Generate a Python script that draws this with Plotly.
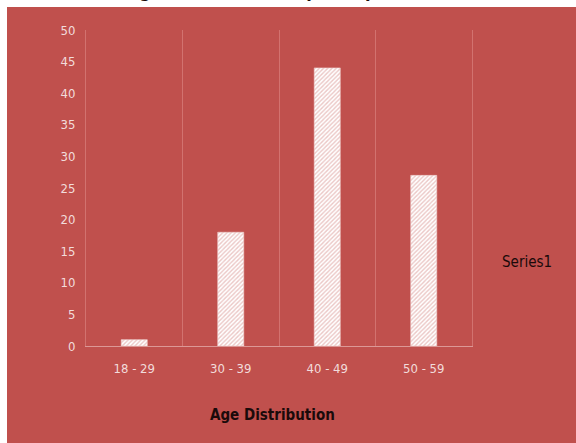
import plotly.graph_objects as go

categories = ["18 - 29", "30 - 39", "40 - 49", "50 - 59"]
values = [1, 18, 44, 27]
y_ticks = [0, 5, 10, 15, 20, 25, 30, 35, 40, 45, 50]
series_name = "Series1"
x_title = "Age Distribution"
chart_title = "Age Distribution of participants"

W, H = 576, 443
L, R, T, B = 86, 104, 30, 97
pw, ph = W - L - R, H - T - B

def px(x):
    return (x - L) / pw

def py(y):
    return (H - B - y) / ph

RED = "#C0504D"
FONT = "DejaVu Sans Condensed, Liberation Sans, sans-serif"

fig = go.Figure()
fig.add_trace(go.Bar(
    x=categories, y=values, name=series_name,
    marker=dict(color="white",
                pattern=dict(shape="/", fgcolor="#d88f8c", bgcolor="white", size=3, solidity=0.45),
                line=dict(color="#f0d0cf", width=0.6)),
    showlegend=False,
))

fig.update_layout(
    width=W, height=H,
    margin=dict(l=L, r=R, t=T, b=B),
    paper_bgcolor="white",
    plot_bgcolor="rgba(0,0,0,0)",
    bargap=0.73,
    font=dict(family=FONT, color="#f2dcdb", size=13),
    xaxis=dict(
        type="category", tickson="boundaries", showgrid=True, gridcolor="#d2726f", gridwidth=1,
        ticks="", showline=True, linecolor="#dc9896", linewidth=1,
        tickfont=dict(size=13, color="#f2dcdb", family=FONT),
        ticklabelstandoff=10,
        zeroline=False, fixedrange=True,
    ),
    yaxis=dict(
        range=[0, 50], tickvals=y_ticks, showgrid=False, zeroline=False,
        showline=True, mirror=True, linecolor="#d2726f", linewidth=1, ticks="",
        tickfont=dict(size=13, color="#f2dcdb", family=FONT),
        ticklabelstandoff=7,
    ),
    shapes=[
        dict(type="rect", xref="paper", yref="paper", layer="below",
             x0=px(7), x1=px(W + 5), y0=py(H + 5), y1=py(7),
             fillcolor=RED, line=dict(width=0)),
    ],
    annotations=[
        dict(text=f"<b>{x_title}</b>", xref="paper", yref="paper",
             x=px(272), y=py(415), xanchor="center", yanchor="middle",
             showarrow=False, font=dict(size=15, color="#1a0a0a", family=FONT)),
        dict(text=series_name, xref="paper", yref="paper",
             x=px(500), y=py(262), xanchor="left", yanchor="middle",
             showarrow=False, font=dict(size=15, color="#1a0a0a", family=FONT)),
        dict(text=f"<b>{chart_title}</b>", xref="paper", yref="paper",
             x=px(419), y=py(2.7), xanchor="right", yanchor="bottom",
             showarrow=False, font=dict(size=18, color="#1a0a0a", family=FONT)),
    ],
)
fig.write_html("out.html")
